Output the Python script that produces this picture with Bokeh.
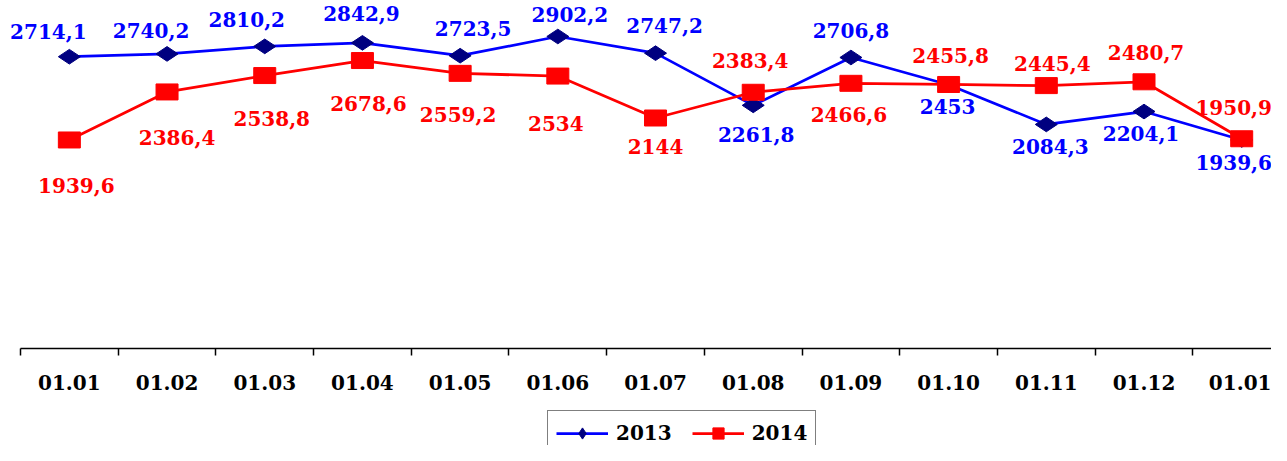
import math
from bokeh.plotting import figure
from bokeh.models import ColumnDataSource, Range1d, FixedTicker, Legend, LegendItem
from bokeh.core.properties import value
from bokeh.embed import file_html
from bokeh.resources import INLINE

# ---- data ----
categories = ["01.01", "01.02", "01.03", "01.04", "01.05", "01.06", "01.07",
              "01.08", "01.09", "01.10", "01.11", "01.12", "01.01"]
values_2013 = [2714.1, 2740.2, 2810.2, 2842.9, 2723.5, 2902.2, 2747.2,
               2261.8, 2706.8, 2453.0, 2084.3, 2204.1, 1939.6]
values_2014 = [1939.6, 2386.4, 2538.8, 2678.6, 2559.2, 2534.0, 2144.0,
               2383.4, 2466.6, 2455.8, 2445.4, 2480.7, 1950.9]

# ---- label placement (screen px offsets from each point) ----
off_2013_x = [-21, -16, -18, -1, 13, 12, 9, 3, 0, -1, 4, -3, -8]
off_2013_y = [-25, -23, -27, -29, -27, -22, -28, 29, -27, 22, 22, 22, 23]
off_2014_x = [7, 10, 7, 6, -2, -2, 0, -3, -2, 2, 6, 2, -8]
off_2014_y = [46, 46, 43, 43, 41, 47, 28, -32, 31, -29, -22, -29, -31]

FONT = "DejaVu Serif"
BLUE = "#0000FF"
NAVY = "#000080"
RED = "#FF0000"


def fmt(v):
    return f"{v:g}".replace(".", ",")


x = list(range(len(categories)))
src13 = ColumnDataSource(dict(x=x, y=values_2013, t=[fmt(v) for v in values_2013],
                              dx=off_2013_x, dy=off_2013_y))
src14 = ColumnDataSource(dict(x=x, y=values_2014, t=[fmt(v) for v in values_2014],
                              dx=off_2014_x, dy=off_2014_y))

p = figure(width=1271, height=445, output_backend="svg", toolbar_location=None,
           x_range=Range1d(-0.7047, 12.305), y_range=Range1d(-902.3, 3237),
           y_axis_location=None, min_border_left=0, min_border_right=0,
           min_border_top=0, min_border_bottom=0)
p.outline_line_color = None
p.xgrid.visible = False
p.ygrid.visible = False
p.background_fill_color = "white"
p.border_fill_color = "white"

ax = p.xaxis[0]
ax.fixed_location = 0
ax.ticker = FixedTicker(ticks=x, minor_ticks=[i - 0.5 for i in range(len(categories) + 1)])
ax.bounds = (-0.5, 13.0)
ax.major_label_overrides = {i: c for i, c in enumerate(categories)}
ax.major_tick_out = 0
ax.major_tick_in = 0
ax.minor_tick_out = 7
ax.minor_tick_in = 0
ax.minor_tick_line_color = "black"
ax.minor_tick_line_width = 1.5
ax.axis_line_color = "black"
ax.axis_line_width = 1.5
ax.major_label_standoff = 20
ax.major_label_text_font = FONT
ax.major_label_text_font_style = "bold"
ax.major_label_text_font_size = "20px"
ax.major_label_text_color = "black"

# lines
l13 = p.line("x", "y", source=src13, line_color=BLUE, line_width=2.75)
l14 = p.line("x", "y", source=src14, line_color=RED, line_width=2.75)

# markers
m13 = p.scatter("x", "y", source=src13, marker="diamond", size=22, angle=math.pi / 2,
                fill_color=NAVY, line_color=NAVY)
p.rect("x", "y", source=src14, width=22, height=16, width_units="screen",
       height_units="screen", fill_color=RED, line_color=RED)
m14_legend = p.scatter(x=[float("nan")], y=[float("nan")], marker="square", size=14,
                       fill_color=RED, line_color=RED)

# data labels
for src, col in ((src13, BLUE), (src14, RED)):
    p.text("x", "y", text="t", source=src, x_offset="dx", y_offset="dy",
           text_align="center", text_baseline="middle",
           text_font=value(FONT), text_font_style="bold",
           text_font_size="20px", text_color=col)

legend = Legend(items=[LegendItem(label="2013", renderers=[l13, m13]),
                       LegendItem(label="2014", renderers=[l14, m14_legend])],
                location=(547, -11), orientation="horizontal",
                glyph_width=52, glyph_height=28, label_standoff=8, spacing=20,
                padding=8, margin=0, border_line_color="black", border_line_width=1.5,
                background_fill_color="white", background_fill_alpha=1.0,
                label_text_font=FONT, label_text_font_style="bold",
                label_text_font_size="20px", label_text_color="black",
                label_height=20)
p.add_layout(legend, "center")

open("out.html", "w").write(file_html(p, INLINE))
